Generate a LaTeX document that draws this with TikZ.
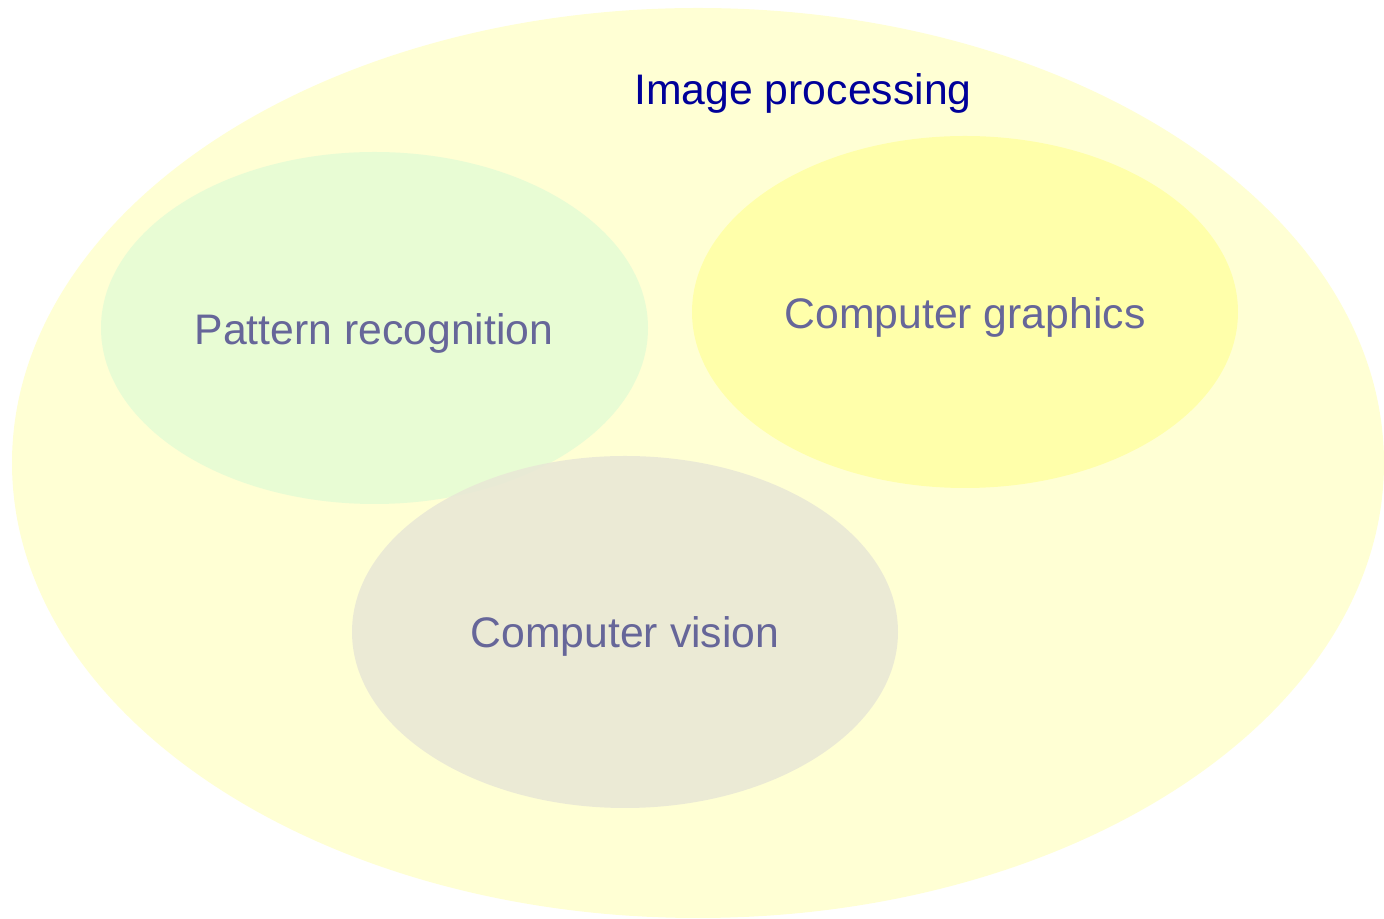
\documentclass[tikz,border=0pt]{standalone}
\usepackage{fontspec}
\setmainfont{Liberation Sans}
\definecolor{bigfill}{HTML}{FFFFD4}
\definecolor{greenfill}{HTML}{E8FCD4}
\definecolor{yellowfill}{HTML}{FFFFAA}
\definecolor{greyfill}{HTML}{E9E8D6}
\definecolor{labelcol}{HTML}{666699}
\definecolor{titlecol}{HTML}{000099}
\begin{document}
\begin{tikzpicture}[x=0.01cm,y=-0.01cm,
  lab/.style={font=\fontsize{12.15pt}{14pt}\selectfont, text=labelcol, inner sep=0pt},
]
\useasboundingbox (0,0) rectangle (1384,919);
\fill[bigfill] (698,463) ellipse [x radius=686, y radius=455];
\fill[greenfill] (374.5,328) ellipse [x radius=273.5, y radius=176];
\fill[yellowfill] (965,312) ellipse [x radius=273, y radius=176];
\fill[greyfill, fill opacity=0.88] (625,632) ellipse [x radius=273, y radius=176];
\node[lab, text=titlecol] (title) at (803,93) {Image processing};
\node[lab] (pr) at (374,333) {Pattern recognition};
\node[lab] (cg) at (965,317) {Computer graphics};
\node[lab] (cv) at (625,636) {Computer vision};
\end{tikzpicture}
\end{document}
